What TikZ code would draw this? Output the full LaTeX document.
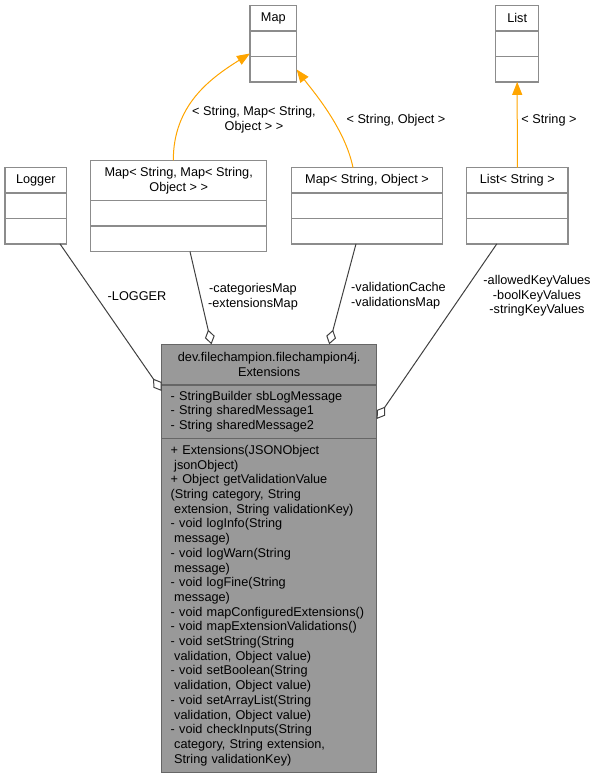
\documentclass[tikz,border=0pt]{standalone}
\usepackage{fontspec}
\setmainfont{Liberation Sans}
\usepackage{xcolor}
\usepackage{tikz}
\usetikzlibrary{arrows.meta,positioning}

\definecolor{boxline}{HTML}{8C8C8C}
\definecolor{mainline}{HTML}{666666}
\definecolor{mainfill}{HTML}{999999}
\definecolor{edgegray}{HTML}{404040}
\definecolor{tmplorange}{HTML}{FFA500}

\newcommand{\umlfont}{\fontsize{12.7}{14.7}\selectfont}
\newcommand{\ind}{\hspace*{3.5pt}}

\tikzset{
  cls/.style={draw=boxline,fill=white,line width=1.3pt,outer sep=0pt,inner xsep=4pt,inner ysep=0pt,
    minimum height=25.4pt,align=center,font=\umlfont},
  maincls/.style={cls,draw=mainline,fill=mainfill,minimum width=215pt,text width=197pt,inner xsep=9pt},
  aggr/.style={draw=edgegray,line width=1pt,-{Diamond[open,length=15pt,width=10pt,line width=1pt]}},
  templ/.style={draw=tmplorange,line width=1pt,-{Triangle[length=13pt,width=10pt]}},
  lbl/.style={font=\umlfont,inner sep=0pt,align=center}
}

\begin{document}
\begin{tikzpicture}[x=1pt,y=-1pt]
\useasboundingbox (0,0) rectangle (599,779);
% generic templates
\node[cls,minimum width=46.7pt,anchor=north] (mapT) at (273.3,5.7) {Map};
\node[cls,minimum width=46.7pt,below=0pt of mapT] (mapA) {};
\node[cls,minimum width=46.7pt,below=0pt of mapA] (mapM) {};
\node[cls,minimum width=43pt,anchor=north] (listT) at (517.2,5.7) {List};
\node[cls,minimum width=43pt,below=0pt of listT] (listA) {};
\node[cls,minimum width=43pt,below=0pt of listA] (listM) {};
% member types
\node[cls,minimum width=61.7pt,anchor=north] (loggerT) at (35.8,167.7) {Logger};
\node[cls,minimum width=61.7pt,below=0pt of loggerT] (loggerA) {};
\node[cls,minimum width=61.7pt,below=0pt of loggerA] (loggerM) {};
\node[cls,minimum width=176pt,minimum height=40.4pt,anchor=north] (mapMapT) at (178.7,160.3) {Map< String, Map< String,\\Object > >};
\node[cls,minimum width=176pt,below=0pt of mapMapT] (mapMapA) {};
\node[cls,minimum width=176pt,below=0pt of mapMapA] (mapMapM) {};
\node[cls,minimum width=150.6pt,anchor=north] (mapObjT) at (367,167.7) {Map< String, Object >};
\node[cls,minimum width=150.6pt,below=0pt of mapObjT] (mapObjA) {};
\node[cls,minimum width=150.6pt,below=0pt of mapObjA] (mapObjM) {};
\node[cls,minimum width=101.3pt,anchor=north] (listStrT) at (517.3,167.7) {List< String >};
\node[cls,minimum width=101.3pt,below=0pt of listStrT] (listStrA) {};
\node[cls,minimum width=101.3pt,below=0pt of listStrA] (listStrM) {};
% the class itself
\node[maincls,minimum height=40.7pt,anchor=north] (extT) at (269.2,344.3) {dev.filechampion.filechampion4j.\\Extensions};
\node[maincls,align=left,minimum height=53.3pt,below=0pt of extT] (extA) {- StringBuilder sbLogMessage\\
- String sharedMessage1\\
- String sharedMessage2};
\node[maincls,align=left,minimum height=334.4pt,below=0pt of extA] (extM) {+ Extensions(JSONObject\\
\ind jsonObject)\\
+ Object getValidationValue\\
(String category, String\\
\ind extension, String validationKey)\\
- void logInfo(String\\
\ind message)\\
- void logWarn(String\\
\ind message)\\
- void logFine(String\\
\ind message)\\
- void mapConfiguredExtensions()\\
- void mapExtensionValidations()\\
- void setString(String\\
\ind validation, Object value)\\
- void setBoolean(String\\
\ind validation, Object value)\\
- void setArrayList(String\\
\ind validation, Object value)\\
- void checkInputs(String\\
\ind category, String extension,\\
\ind String validationKey)};
% template instances
\draw[templ]([xshift=-5.4pt]mapMapT.north) .. controls +(0,-55) and +(-40,25) .. ([yshift=3pt]mapA.south west);
\draw[templ]([xshift=-14pt]mapObjT.north) .. controls +(-8,-40) and +(15,20) .. ([yshift=-13pt]mapM.north east);
\draw[templ](listStrT.north)--(listM.south);
\node[lbl] (lblMapMap) at (254,120) {< String, Map< String,\\Object > >};
\node[lbl] (lblMapObj) at (396,120) {< String, Object >};
\node[lbl] (lblList) at (549,120) {< String >};
% members
\draw[aggr]([xshift=24.2pt]loggerM.south)--([yshift=-6pt]extA.north west);
\draw[aggr]([xshift=11.3pt]mapMapM.south)--([xshift=-57.7pt]extT.north);
\draw[aggr]([xshift=-11pt]mapObjM.south)--([xshift=60pt]extT.north);
\draw[aggr]([xshift=-20.5pt]listStrM.south)--([yshift=-34pt]extA.north east);
\node[lbl] (lblLogger) at (137,296) {-LOGGER};
\node[lbl] (lblCat) at (253,297) {-categoriesMap\\-extensionsMap};
\node[lbl,align=left,anchor=west] (lblVal) at (351,296) {-validationCache\\-validationsMap};
\node[lbl] (lblKeys) at (537,296) {-allowedKeyValues\\-boolKeyValues\\-stringKeyValues};
\end{tikzpicture}
\end{document}
